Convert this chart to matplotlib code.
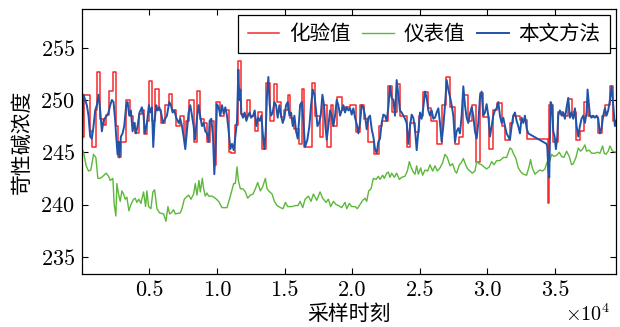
import numpy as np
import matplotlib
matplotlib.use('Agg')
import matplotlib.pyplot as plt
from matplotlib.ticker import FuncFormatter

plt.rcParams['font.family'] = ['cmr10', 'Noto Sans CJK SC', 'DejaVu Sans']
plt.rcParams['mathtext.fontset'] = 'cm'
plt.rcParams['axes.formatter.use_mathtext'] = True
plt.rcParams['axes.unicode_minus'] = False

# 化验值: lab values, held constant between samples (x where each value starts)
lab_x = [0, 123, 568, 741, 1037, 1136, 1358, 1630, 1802, 2000, 2296, 2494, 2642, 2889,
         3284, 3531, 3778, 3950, 4197, 4444, 4617, 4815, 4988, 5185, 5382, 5679, 5876,
         6173, 6420, 6667, 6988, 7284, 7531, 7704, 7901, 8272, 8519, 8765, 9012, 9259,
         9506, 9753, 9951, 10247, 10494, 10864, 11062, 11358, 11531, 11778, 11975, 12222,
         12420, 12840, 13012, 13333, 13630, 13901, 14198, 14444, 14741, 14938, 15235,
         15432, 15679, 16049, 16270, 16442, 17009, 17255, 17625, 17872, 18118, 18438,
         18611, 18858, 19227, 19474, 19844, 20287, 20583, 20879, 21199, 21618, 21988,
         22185, 22678, 22925, 23295, 23541, 24034, 24281, 24650, 24971, 25267, 25587,
         25834, 26253, 26622, 26943, 27239, 27608, 27929, 28225, 28594, 28841, 29162,
         29457, 29654, 30147, 30443, 30690, 31059, 31306, 31676, 31922, 32415, 32908,
         34461, 34584, 34880, 35250, 35620, 35989, 36236, 36557, 36852, 37148, 37468,
         37838, 38208, 38454, 38701, 39071, 39317, 39520]
lab_v = [246.5, 250.5, 247, 245.5, 249, 252.7, 248.2, 247.6, 248.6, 250.9, 252.7, 247.5,
         244.5, 246, 250, 248.5, 247.8, 246.8, 248.7, 249, 246.7, 248, 251.8, 248, 251,
         249, 247.8, 249.5, 250.6, 249, 247.5, 248.5, 246.3, 248, 250, 246, 250.9, 248.2,
         247.8, 246, 248, 243.8, 249.8, 248.5, 249, 245, 244.9, 247.6, 253.7, 248.7, 248.5,
         250, 248.5, 247, 248.8, 245.3, 251.6, 248, 251.5, 249.8, 248.4, 249, 250.5, 248.3,
         247.2, 245.8, 251, 245.5, 251.6, 248.5, 246.5, 249.5, 245.5, 249.5, 247.5, 250.3,
         249, 249.3, 249.5, 246.9, 249.5, 248.2, 246, 244.8, 247.5, 248, 251.3, 248.8,
         251.5, 248.5, 245.5, 247.8, 246.9, 248.5, 250.8, 249.2, 248, 245.8, 249.5, 252.2,
         249.3, 245.8, 246.5, 250.5, 248, 249.5, 244.1, 250.7, 248.4, 245.3, 249, 249.7,
         247.5, 246.2, 247.8, 248.5, 248.1, 246.3, 240.1, 249.5, 246, 248.8, 248.5, 250.1,
         248.8, 246.2, 247, 249.8, 248.5, 248.4, 246.8, 248.5, 249.5, 251.3, 248, 248]

# 仪表值: online instrument reading
meter_x = [0, 123, 321, 494, 667, 864, 1037, 1185, 1358, 1555, 1802, 1975, 2099, 2296,
           2395, 2518, 2592, 2716, 2839, 2963, 3086, 3210, 3333, 3481, 3629, 3827, 3950,
           4074, 4222, 4370, 4568, 4716, 4815, 4938, 5111, 5259, 5382, 5555, 5753, 6049,
           6222, 6370, 6493, 6617, 6790, 6913, 7284, 7407, 7580, 7728, 7901, 8074, 8271,
           8395, 8518, 8666, 8765, 8913, 9012, 9135, 9259, 9382, 9629, 9876, 10123, 10370,
           10740, 10987, 11234, 11357, 11481, 11580, 11728, 11925, 12098, 12271, 12469,
           12666, 12839, 13012, 13209, 13382, 13580, 13703, 13826, 14073, 14246, 14444,
           14691, 14888, 15061, 15234, 15555, 15802, 16000, 16146, 16343, 16516, 16762,
           16959, 17132, 17378, 17625, 17822, 18069, 18241, 18414, 18611, 18808, 18981,
           19227, 19474, 19597, 19794, 19967, 20213, 20386, 20583, 20780, 20953, 21076,
           21224, 21396, 21569, 21766, 21939, 22062, 22259, 22382, 22555, 22678, 22802,
           22925, 23122, 23295, 23491, 23664, 23911, 24083, 24231, 24354, 24527, 24650,
           24774, 24897, 25069, 25217, 25390, 25587, 25760, 25957, 26129, 26302, 26499,
           26696, 26869, 27041, 27239, 27436, 27608, 27732, 27929, 28077, 28225, 28397,
           28545, 28718, 28890, 29087, 29211, 29383, 29580, 29753, 29950, 30147, 30320,
           30492, 30690, 30936, 31183, 31429, 31676, 31799, 31922, 32119, 32292, 32489,
           32662, 32908, 33105, 33204, 33327, 33524, 33697, 33894, 34091, 34264, 34436,
           34634, 34757, 34930, 35127, 35324, 35496, 35669, 35866, 36063, 36236, 36359,
           36557, 36729, 36902, 37050, 37222, 37345, 37543, 37715, 37961, 38159, 38331,
           38528, 38651, 38775, 38947, 39071, 39268, 39514]
meter_v = [245.4, 245, 243.7, 243.2, 243.3, 244.8, 244.5, 242.5, 242.5, 242.7, 243, 242.7,
           242.3, 242.5, 240, 238.9, 242, 241, 240.3, 241.3, 241, 240.5, 240.7, 239.4, 240,
           240.5, 240.6, 240.2, 240.5, 240.1, 241.2, 239.8, 241.3, 239.8, 239.6, 241.2,
           241.4, 239.6, 239.2, 239.1, 238.4, 239.8, 239.1, 239.2, 239.5, 239.1, 239.2,
           239.6, 240.5, 240.7, 240.9, 240.5, 241, 242, 240.9, 242.3, 241.2, 242.5, 241.5,
           240.8, 241.1, 240.8, 240.8, 240.6, 240.3, 239.7, 239.7, 240.8, 242, 242, 243.6,
           242.3, 241.5, 241.5, 241.2, 240.6, 240.9, 241, 241.5, 242.1, 241.3, 241.7, 242.5,
           241.5, 241.3, 241, 240.3, 239.9, 239.7, 239.6, 240.2, 239.8, 239.8, 239.9, 239.9,
           240.3, 239.7, 240.5, 240.8, 240.3, 241, 240.4, 241.2, 240.6, 240.2, 240.5, 239.8,
           240.3, 240, 239.9, 239.7, 240.2, 239.6, 240.1, 239.8, 239.8, 239.6, 240, 240.4,
           240.6, 240.3, 241.3, 241.5, 242.5, 242.4, 242.7, 242.4, 242.8, 242.5, 243, 243.1,
           242.6, 243, 242.6, 243, 242.4, 242.6, 242.7, 243.2, 244.1, 243.6, 243.1, 242.9,
           243.7, 242.9, 243.5, 242.8, 243.3, 243.2, 243.8, 243.2, 243.7, 243.2, 243.5, 244,
           244.8, 244.5, 243.7, 243.9, 243.2, 243, 243.8, 244, 244.4, 243.8, 243.4, 243.2,
           243, 243.2, 244.1, 243.9, 243.8, 243.6, 243.4, 243.6, 244.1, 243.8, 244.2, 244.2,
           244.5, 244.5, 245.4, 245.3, 244.9, 244.4, 243.5, 243.1, 242.9, 242.8, 243.7,
           244.3, 243.5, 242.9, 243.1, 243.3, 243.2, 243.4, 244.1, 244.2, 244.8, 244.6,
           244.7, 245, 244.6, 244.5, 245.1, 244.6, 243.8, 243.9, 244.5, 245.4, 245.1, 245.3,
           245.7, 245.1, 245.2, 244.9, 244.9, 245, 244.9, 245.6, 244.9, 244.8, 245.1, 245.6,
           245.1, 245]

# 本文方法: soft-sensor estimate
model_x = [0, 123, 247, 370, 494, 617, 741, 864, 988, 1111, 1235, 1358, 1481, 1605, 1728,
           1852, 1975, 2099, 2222, 2346, 2469, 2543, 2642, 2716, 2790, 2889, 3012, 3136,
           3284, 3383, 3506, 3629, 3753, 3876, 4000, 4123, 4271, 4444, 4568, 4666, 4815,
           4963, 5061, 5185, 5284, 5382, 5506, 5605, 5728, 5876, 6000, 6173, 6296, 6469,
           6592, 6716, 6839, 6987, 7160, 7284, 7407, 7530, 7654, 7777, 7901, 8024, 8148,
           8271, 8370, 8518, 8642, 8765, 8888, 9012, 9135, 9259, 9382, 9456, 9580, 9703,
           9802, 9901, 10000, 10123, 10246, 10370, 10493, 10617, 10740, 10864, 10987, 11111,
           11234, 11357, 11481, 11580, 11654, 11728, 11802, 11925, 12049, 12172, 12296,
           12420, 12518, 12666, 12790, 12913, 13036, 13160, 13283, 13407, 13505, 13604,
           13703, 13802, 13900, 13999, 14122, 14246, 14369, 14493, 14616, 14740, 14863,
           14987, 15110, 15234, 15357, 15481, 15604, 15728, 15851, 15974, 16098, 16146,
           16270, 16393, 16516, 16688, 16836, 16960, 17083, 17206, 17329, 17428, 17551,
           17674, 17798, 17921, 18019, 18118, 18241, 18365, 18488, 18611, 18734, 18858,
           18981, 19104, 19227, 19351, 19474, 19597, 19720, 19844, 19967, 20090, 20213,
           20337, 20460, 20583, 20706, 20830, 20953, 21076, 21199, 21323, 21446, 21569,
           21692, 21816, 21939, 22062, 22185, 22309, 22432, 22555, 22678, 22802, 22925,
           23048, 23171, 23295, 23418, 23541, 23664, 23788, 23911, 24034, 24157, 24281,
           24404, 24527, 24650, 24774, 24897, 25020, 25143, 25267, 25390, 25513, 25636,
           25760, 25883, 26006, 26129, 26253, 26376, 26499, 26622, 26746, 26869, 26992,
           27115, 27239, 27362, 27485, 27608, 27732, 27855, 27978, 28101, 28225, 28348,
           28471, 28594, 28718, 28841, 28964, 29087, 29211, 29334, 29457, 29580, 29704,
           29827, 29950, 30073, 30197, 30320, 30443, 30566, 30690, 30813, 30936, 31059,
           31183, 31306, 31429, 31552, 31676, 31799, 31922, 32045, 32169, 32292, 32415,
           32538, 32662, 32785, 32908, 33031, 34387, 34436, 34510, 34584, 34634, 34683,
           34781, 34880, 34979, 35077, 35176, 35250, 35373, 35496, 35620, 35743, 35866,
           35989, 36113, 36236, 36359, 36482, 36606, 36729, 36852, 36975, 37099, 37222,
           37345, 37419, 37518, 37592, 37715, 37838, 37961, 38085, 38208, 38331, 38454,
           38578, 38701, 38824, 38947, 39071, 39194, 39317, 39440, 39514]
model_v = [245.5, 250.5, 250, 249.5, 248.5, 246.5, 246.3, 247.5, 249, 249.5, 250.5, 249,
           247, 248, 248.3, 248.5, 248.8, 249.5, 250, 249.8, 248, 246.5, 244.8, 246, 244.5,
           246.5, 246.8, 247.5, 249.5, 249.8, 248.5, 249, 247, 247.8, 246.8, 247.5, 248.8,
           249.3, 248.5, 246.8, 247.8, 249.5, 248.8, 249.3, 245.5, 248, 249.5, 249, 249.3,
           248.7, 247.8, 248.2, 248.5, 249.8, 249.5, 248.8, 249, 248.3, 247.8, 248.2, 247.5,
           246.5, 245.3, 247, 248.8, 249.5, 248.5, 247.5, 246.2, 248.3, 249.5, 248.4, 247.5,
           247.8, 247, 246.8, 246, 248, 248.2, 246.5, 242.9, 245.5, 249.6, 249.3, 248.5,
           249.5, 248.7, 249.3, 248.5, 247, 245.3, 245.8, 245.2, 246.5, 248, 252.9, 250,
           251, 248.7, 248.3, 248.8, 248, 248.5, 248.8, 248.3, 248.5, 249, 247.5, 248.3, 248,
           248.5, 246.5, 245.3, 247, 250.5, 252.2, 249.5, 248.5, 248.8, 249.8, 249.5, 248.3,
           249.5, 248.5, 247.8, 248.3, 249.5, 249.8, 248.5, 248.8, 247.5, 248.5, 247, 246.3,
           248.5, 249.5, 249.8, 248, 245.5, 246.2, 247.5, 249.5, 251, 250.5, 249, 247.5,
           247.8, 248.5, 250.5, 249.5, 247.5, 246.2, 247.5, 249, 248.5, 247.5, 248.5, 250,
           249.5, 248.5, 249, 249.5, 248.8, 249.3, 249, 249.2, 248.6, 249.2, 248.3, 247.7,
           246.8, 247.8, 249.5, 249.3, 248.5, 247.2, 248.3, 248.5, 247.2, 246.5, 245.3,
           244.9, 246, 246.3, 247.8, 248.6, 248.5, 248, 249.3, 251.3, 250.2, 250, 248.5,
           251.9, 250.5, 249, 248.8, 248.5, 248.2, 247.8, 245.8, 247.5, 248.6, 248.3, 247.2,
           245.2, 247, 248.8, 248.2, 249.3, 250.8, 250.2, 249, 248.5, 249, 248.2, 248.3,
           248.8, 249.2, 247.8, 246, 247.5, 249.5, 251.9, 251, 250.3, 249.5, 248.5, 246, 247,
           247.3, 246.8, 248.5, 251.3, 249.5, 248.3, 247.8, 248.7, 249.3, 248.5, 247, 246.3,
           247.8, 250.3, 250.8, 248.5, 248.8, 249.6, 248.5, 246.5, 247.5, 248.5, 249, 249.2,
           249.8, 248.5, 247.8, 248.3, 247.5, 246.8, 246.5, 246.2, 247.5, 248.5, 248.8, 248,
           247.5, 246.8, 248.3, 247.8, 248.5, 247.3, 246.8, 245.8, 245.5, 243.5, 242.6, 246,
           249.8, 249.5, 247, 246.5, 245.3, 246.5, 248.5, 249, 248.5, 248.8, 248.2, 249.3,
           250.2, 248.3, 248.8, 248.2, 249.2, 247.5, 246.5, 247.5, 248.2, 248.5, 247.8,
           248.8, 251, 249.5, 248.5, 248.3, 248.5, 248.3, 248.5, 248.2, 246.8, 247.3, 248.5,
           249.2, 248.5, 249, 250, 251.3, 249.5, 247.5, 248]

fig = plt.figure(figsize=(6.2, 3.27), dpi=100)
ax = fig.add_axes([0.132, 0.162, 0.8615, 0.8105])

ax.step(lab_x, lab_v, where='post', color='#f52a2a', linewidth=1.1, label='化验值')
ax.plot(meter_x, meter_v, color='#5cb83a', linewidth=1.0, label='仪表值')
ax.plot(model_x, model_v, color='#2153a8', linewidth=1.4, label='本文方法')

ax.set_xlim(0, 39520)
ax.set_ylim(233.35, 258.7)
ax.set_xticks([5000, 10000, 15000, 20000, 25000, 30000, 35000])
ax.set_yticks([235, 240, 245, 250, 255])
# tick labels in units of 10^4, scale factor written at the lower right
ax.xaxis.set_major_formatter(FuncFormatter(lambda v, _: f'{v / 1e4:.1f}'))
ax.text(0.99, -0.178, r'$\times\mathdefault{10^{4}}$', transform=ax.transAxes,
        ha='right', va='baseline', fontsize=14.5)
ax.tick_params(direction='in', top=True, right=True, length=4, width=0.8,
               labelsize=16, pad=5)
for s in ax.spines.values():
    s.set_linewidth(0.9)

ax.set_xlabel('采样时刻', fontsize=15, labelpad=3)
ax.set_ylabel('苛性碱浓度', fontsize=15, labelpad=6)

leg = ax.legend(loc='upper right', ncol=3, fontsize=14.8, frameon=True, fancybox=False,
                edgecolor='black', framealpha=1, handlelength=1.55, handletextpad=0.45,
                columnspacing=0.6, borderpad=0.45, borderaxespad=0.3)
leg.get_frame().set_linewidth(0.9)

plt.savefig('out.png', dpi=100)
